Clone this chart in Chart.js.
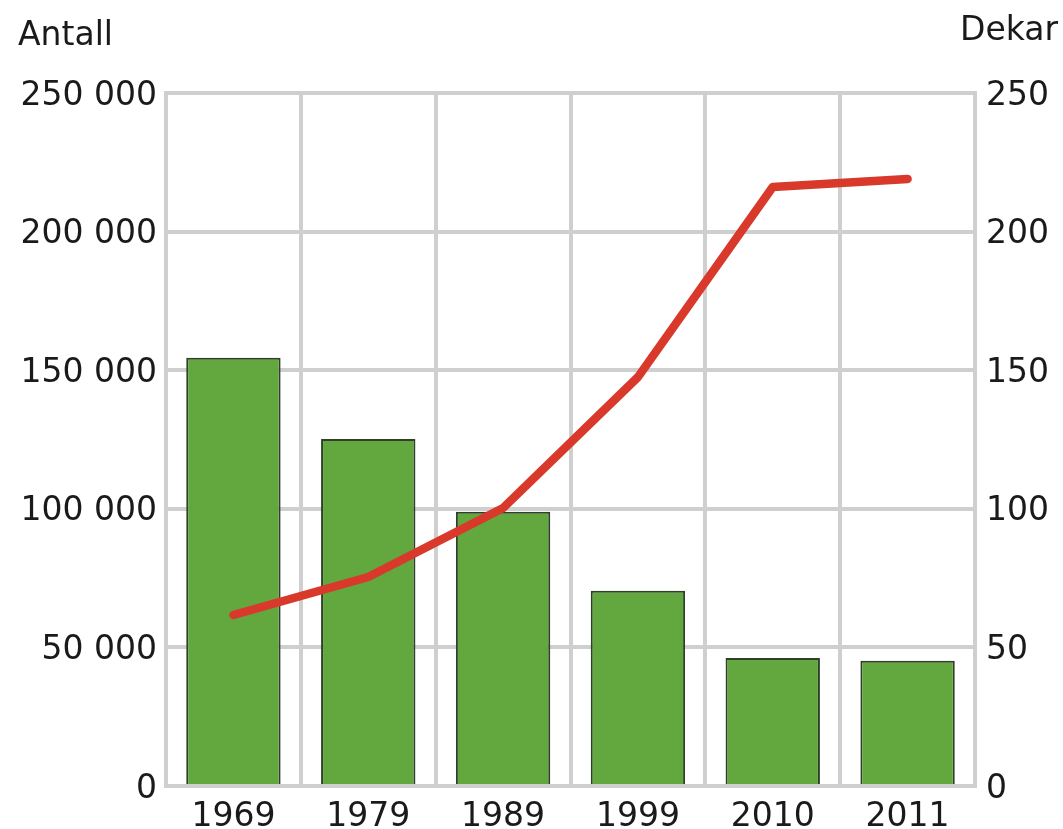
<!DOCTYPE html>
<html>
<head>
<meta charset="utf-8">
<script src="https://cdn.jsdelivr.net/npm/chart.js@4.4.1/dist/chart.umd.min.js"></script>
<style>
  html, body { margin: 0; padding: 0; background: #ffffff; }
  #wrap { width: 1063px; height: 829px; position: relative; }
</style>
</head>
<body>
<div id="wrap"><canvas id="c"></canvas></div>
<script>
const categories = ['1969', '1979', '1989', '1999', '2010', '2011'];
const antall = [154500, 125200, 98900, 70400, 46200, 45200];
const dekar = [61.7, 75.4, 100.3, 147.5, 216.1, 219.0];
const leftTitle = 'Antall';
const rightTitle = 'Dekar';

const FONT = '"DejaVu Sans", sans-serif';
const TXT = '#1a1a1a';
const GRID = '#cfcfcf';

function fmt(v) {
  return String(v).replace(/\B(?=(\d{3})+(?!\d))/g, ' ');
}

const titlePlugin = {
  id: 'axisTitles',
  afterDraw(chart) {
    const ctx = chart.ctx;
    ctx.save();
    ctx.font = '33px ' + FONT;
    ctx.fillStyle = TXT;
    ctx.textBaseline = 'alphabetic';
    ctx.textAlign = 'left';
    ctx.fillText(leftTitle, 18, 45);
    ctx.textAlign = 'right';
    ctx.fillText(rightTitle, 1058, 40);
    ctx.restore();
  }
};

new Chart(document.getElementById('c'), {
  data: {
    labels: categories,
    datasets: [
      {
        type: 'line',
        label: rightTitle,
        data: dekar,
        yAxisID: 'y2',
        borderColor: '#d9392b',
        borderWidth: 8.5,
        pointRadius: 0,
        tension: 0,
        borderCapStyle: 'round',
        borderJoinStyle: 'round',
        order: 0
      },
      {
        type: 'bar',
        label: leftTitle,
        data: antall,
        yAxisID: 'y',
        backgroundColor: '#62a83e',
        borderColor: '#2f4029',
        borderWidth: 2,
        barPercentage: 0.7,
        categoryPercentage: 1.0,
        order: 1
      }
    ]
  },
  options: {
    responsive: true,
    maintainAspectRatio: false,
    animation: false,
    layout: { padding: { top: 93, left: 0, right: 0, bottom: 0 } },
    plugins: {
      legend: { display: false },
      tooltip: { enabled: false },
      title: { display: false }
    },
    scales: {
      x: {
        offset: true,
        grid: { display: true, offset: true, color: GRID, lineWidth: 4, drawTicks: false },
        border: { display: true, color: GRID, width: 4 },
        ticks: { color: TXT, font: { family: FONT, size: 33 }, padding: 12, maxRotation: 0 },
        afterFit(s) { s.height = 43; }
      },
      y: {
        position: 'left',
        min: 0, max: 250000,
        ticks: { stepSize: 50000, color: TXT, font: { family: FONT, size: 33 }, padding: 9, labelOffset: 3, callback: v => fmt(v) },
        grid: { color: GRID, lineWidth: 4, drawTicks: false },
        border: { display: true, color: GRID, width: 4 },
        afterFit(s) { s.width = 166; }
      },
      y2: {
        position: 'right',
        min: 0, max: 250,
        ticks: { stepSize: 50, color: TXT, font: { family: FONT, size: 33 }, padding: 11, labelOffset: 3 },
        grid: { display: false, drawTicks: false },
        border: { display: true, color: GRID, width: 4 },
        afterFit(s) { s.width = 88; }
      }
    }
  },
  plugins: [titlePlugin]
});
</script>
</body>
</html>
